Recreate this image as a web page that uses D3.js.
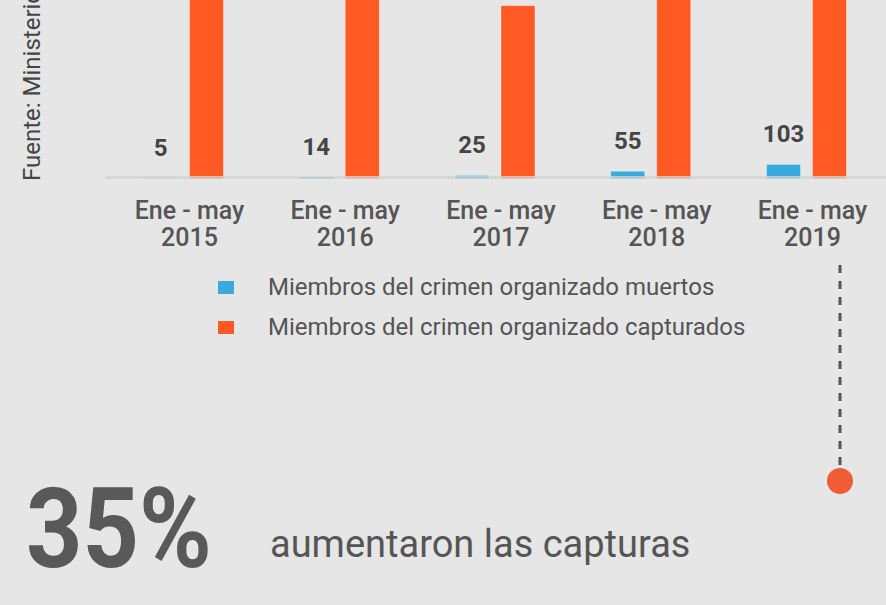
<!DOCTYPE html>
<html>
<head>
<meta charset="utf-8">
<script src="https://cdn.jsdelivr.net/npm/d3@7"></script>
<style>
  html, body { margin: 0; padding: 0; background: #e6e6e6; }
  svg { display: block; font-family: Roboto, "Noto Sans", sans-serif; }
</style>
</head>
<body>
<svg width="886" height="605"></svg>
<script>
// chart data
var periods = ["2015", "2016", "2017", "2018", "2019"];
var periodPrefix = "Ene - may";
var muertos = [5, 14, 25, 55, 103];
var capturados = [1420, 1510, 1230, 1350, 1820];
var seriesNames = ["Miembros del crimen organizado muertos", "Miembros del crimen organizado capturados"];
var seriesKeys = ["muertos", "capturados"];
var colors = ["#38aadd", "#ff5a24"];

var width = 886, height = 605;
var svg = d3.select("svg").style("background", "#e6e6e6");

// scales: x0 gives the centre of each period, x1 places the two bars around it
var x0 = d3.scalePoint().domain(periods).range([183.5, 806.5]),
    x1 = d3.scaleBand().domain(seriesKeys).range([-40, 40]).paddingInner(0.26),
    y = d3.scaleLinear().domain([0, 1270]).range([179, 0]),
    z = d3.scaleOrdinal().domain(seriesKeys).range(colors);

var rows = periods.map(function(p, i) {
    return {period: p, muertos: muertos[i], capturados: capturados[i]};
});

// bars
var groups = svg.append("g")
    .selectAll("g")
    .data(rows)
    .enter().append("g")
    .attr("transform", function(d) { return "translate(" + x0(d.period) + ",0)"; });

groups.selectAll("rect")
    .data(function(d) { return seriesKeys.map(function(k) { return {key: k, value: d[k]}; }); })
    .enter().append("rect")
    .attr("x", function(d) { return x1(d.key); })
    .attr("y", function(d) { return y(d.value); })
    .attr("width", x1.bandwidth())
    .attr("height", function(d) { return y(0) - y(d.value); })
    .attr("fill", function(d) { return z(d.key); })
    .style("stroke", "rgba(255,255,255,0.35)")
    .style("stroke-width", 1);

// value labels above the blue bars
groups.append("text")
    .attr("x", x1("muertos") + x1.bandwidth() / 2)
    .attr("y", function(d) { return y(d.muertos) - 22; })
    .attr("text-anchor", "middle")
    .attr("font-size", 24)
    .attr("font-weight", "bold")
    .style("fill", "#454545")
    .text(function(d) { return d.muertos; });

// baseline over the bars
svg.append("line")
    .attr("x1", 105).attr("x2", width)
    .attr("y1", 177.5).attr("y2", 177.5)
    .style("stroke", "#d3d3d3")
    .style("stroke-opacity", 0.8)
    .style("stroke-width", 3);

// x axis labels
var xl = svg.append("g")
    .attr("text-anchor", "middle")
    .attr("font-size", 25)
    .attr("font-weight", 500)
    .style("fill", "#555")
    .selectAll("text")
    .data(periods)
    .enter().append("text")
    .attr("transform", function(d) { return "translate(" + (x0(d) + 6) + ",0)"; });
xl.append("tspan").attr("x", 0).attr("y", 219).text(periodPrefix);
xl.append("tspan").attr("x", 0).attr("y", 246).text(function(d) { return d; });

// source, rotated (runs off the top like the original)
svg.append("text")
    .attr("transform", "translate(40,181) rotate(-90)")
    .attr("font-size", 24)
    .style("fill", "#444")
    .text("Fuente: Ministerio de Seguridad");

// legend
var legend = svg.append("g")
    .selectAll("g")
    .data(seriesKeys)
    .enter().append("g")
    .attr("transform", function(d, i) { return "translate(218," + (281 + i * 40) + ")"; });

legend.append("rect")
    .attr("width", 16)
    .attr("height", 13)
    .attr("fill", z);

legend.append("text")
    .attr("x", 50)
    .attr("y", 14)
    .attr("font-size", 24)
    .style("fill", "#555")
    .text(function(d, i) { return seriesNames[i]; });

// pointer from 2019 to the callout
var px = x0("2019") + 33.5;
svg.append("line")
    .attr("x1", px).attr("x2", px)
    .attr("y1", 265).attr("y2", 470)
    .style("stroke", "#555")
    .style("stroke-width", 3)
    .style("stroke-dasharray", "8,8");

svg.append("circle")
    .attr("cx", px).attr("cy", 481).attr("r", 13)
    .attr("fill", "#f05d35");

// callout text (condensed look)
svg.append("text")
    .attr("transform", "translate(26,567) scale(0.88,1)")
    .attr("font-size", 112)
    .attr("font-weight", "bold")
    .style("fill", "#595959")
    .text("35%");

svg.append("text")
    .attr("x", 270).attr("y", 557)
    .attr("font-size", 38)
    .style("fill", "#555")
    .text("aumentaron las capturas");
</script>
</body>
</html>
